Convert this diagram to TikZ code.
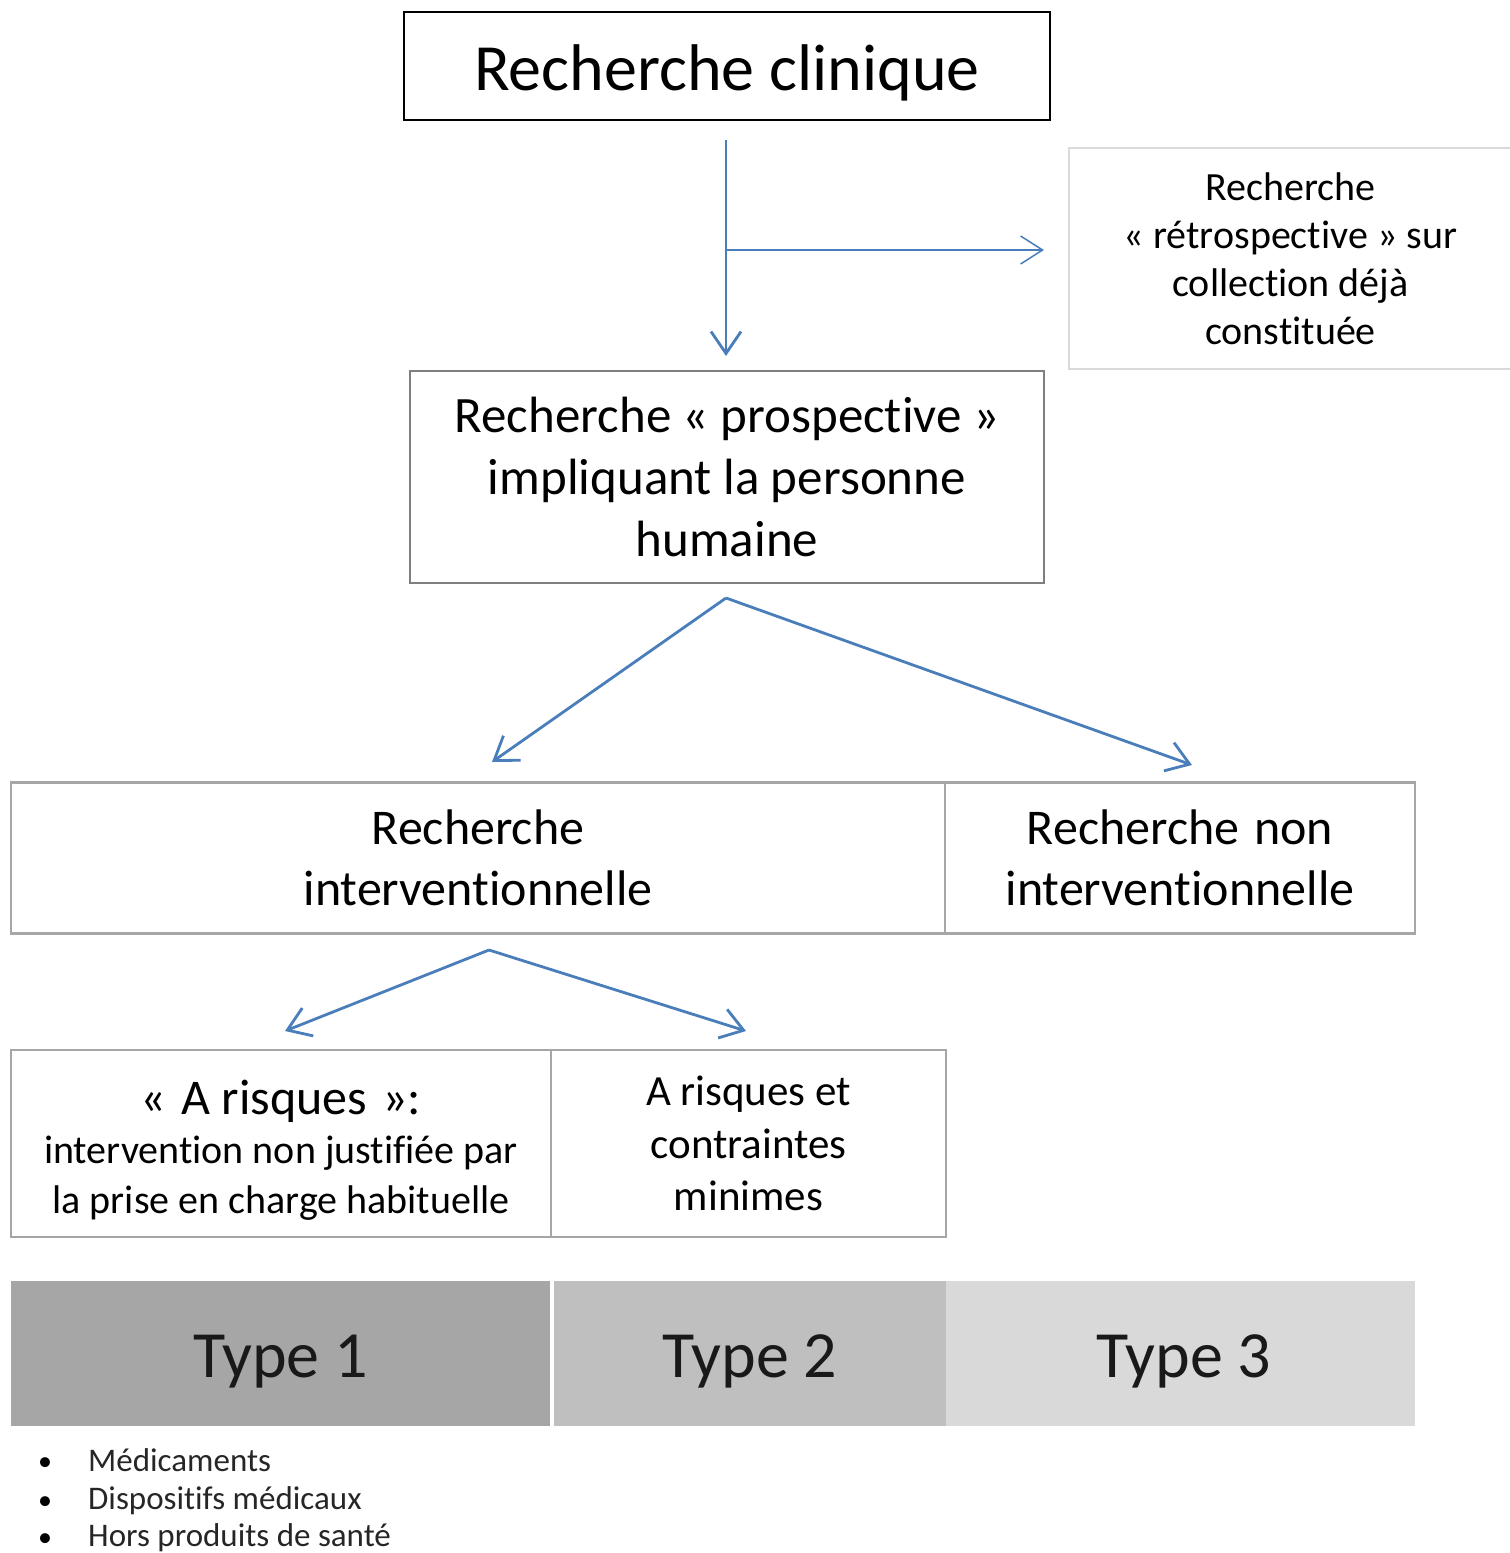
\documentclass[tikz,border=0pt]{standalone}
\usepackage{fontspec}
\setmainfont{Carlito}[Ligatures=NoCommon]
\usetikzlibrary{arrows.meta}
\definecolor{arrowblue}{HTML}{4A7EBB}
\definecolor{boxgray}{HTML}{A6A6A6}
\definecolor{darkgray}{HTML}{7F7F7F}
\definecolor{lightgray}{HTML}{D9D9D9}
\definecolor{fillone}{HTML}{A6A6A6}
\definecolor{filltwo}{HTML}{BFBFBF}
\definecolor{fillthree}{HTML}{D9D9D9}
\begin{document}
\begin{tikzpicture}[x=1pt,y=-1pt,
  box/.style={draw=boxgray, line width=2.5pt, rectangle, align=center, inner sep=0pt, text=black},
  typebox/.style={rectangle, draw=none, align=center, inner sep=0pt, minimum height=145pt, text=black!90},
  typetext/.style={inner sep=0pt, font=\fontsize{66}{70}\selectfont, text=black!90},
  arr/.style={draw=arrowblue, line width=2.8pt, -{Straight Barb[length=22pt,width=30pt,line width=2.8pt]}},
  thinarr/.style={draw=arrowblue, line width=1.5pt, -{Straight Barb[length=22pt,width=28pt,line width=1.5pt]}},
  bullettext/.style={anchor=base west, inner sep=0pt, font=\fontsize{33}{39}\selectfont, text=black!85},
  bulletdot/.style={anchor=base west, inner sep=0pt, font=\fontsize{28}{39}\selectfont, text=black}
]
\useasboundingbox (0,0) rectangle (1510,1553);

% Top box
\node[box, draw=black, minimum width=646pt, minimum height=108pt] (top) at (727,66) {};
\node[inner sep=0pt, anchor=base, font=\fontsize{66}{78}\selectfont] (toptext) at (727,90) {Recherche clinique};

% Retrospective box (cut at right edge)
\node[box, draw=lightgray, line width=2pt, minimum width=443pt, minimum height=221pt,
      font=\fontsize{40}{48}\selectfont] (retro) at (1290.5,258.5)
  {Recherche\\« rétrospective » sur\\collection déjà\\constituée};

% Prospective box
\node[box, draw=darkgray, minimum width=634pt, minimum height=212pt,
      font=\fontsize{51}{62}\selectfont] (prosp) at (727,477)
  {Recherche « prospective »\\impliquant la personne\\humaine};

% Interventionnelle boxes
\node[box, minimum width=934pt, minimum height=151pt,
      font=\fontsize{50}{61}\selectfont] (interv) at (478,858)
  {Recherche\\interventionnelle};
\node[box, minimum width=470pt, minimum height=151pt,
      font=\fontsize{50}{61}\selectfont] (noninterv) at (1180,858)
  {Recherche\hspace{0.3em}non\\interventionnelle};

% Risk boxes
\node[box, minimum width=540pt, minimum height=187pt] (risques) at (281,1143.5) {};
\node[inner sep=0pt, align=center, font=\fontsize{40}{49.5}\selectfont] (risquestext) at (281,1150)
  {{\fontsize{50}{50}\selectfont «\hspace{0.3em}A risques\hspace{0.3em}»:}\\intervention non justifiée par\\la prise en charge habituelle};
\node[box, minimum width=395pt, minimum height=187pt,
      font=\fontsize{43}{52.5}\selectfont] (minimes) at (748.5,1143.5)
  {A risques et\\contraintes\\minimes};

% Type bars
\node[typebox, fill=fillone, minimum width=539pt] (type1) at (280.5,1353.5) {};
\node[typebox, fill=filltwo, minimum width=392pt] (type2) at (750,1353.5) {};
\node[typebox, fill=fillthree, minimum width=469pt] (type3) at (1180.5,1353.5) {};
\node[typetext, anchor=base] (t1) at (280.5,1377) {Type 1};
\node[typetext, anchor=base] (t2) at (750,1377) {Type 2};
\node[typetext, anchor=base] (t3) at (1184,1377) {Type 3};

% Bullet list
\node[bulletdot] (b1) at (38,1470) {•};
\node[bulletdot] (b2) at (38,1509) {•};
\node[bulletdot] (b3) at (38,1546) {•};
\node[bullettext] (l1) at (88,1471) {Médicaments};
\node[bullettext] (l2) at (88,1509) {Dispositifs médicaux};
\node[bullettext] (l3) at (88,1546) {Hors produits de santé};

% Connectors
\coordinate (downstart) at (726,140);
\coordinate (downend) at (726,356);
\coordinate (branch) at (726,250);
\coordinate (retroin) at (1044,250);
\draw[arr] (downstart) -- (downend);
\draw[thinarr] (branch) -- (retroin);

\coordinate (split1) at (726,598);
\coordinate (intervin) at (492,762);
\coordinate (nonin) at (1192,765);
\draw[arr] (split1) -- (intervin);
\draw[arr] (split1) -- (nonin);

\coordinate (split2) at (489,950);
\coordinate (risquesin) at (285,1031);
\coordinate (minimesin) at (746,1031);
\draw[arr] (split2) -- (risquesin);
\draw[arr] (split2) -- (minimesin);
\end{tikzpicture}
\end{document}
